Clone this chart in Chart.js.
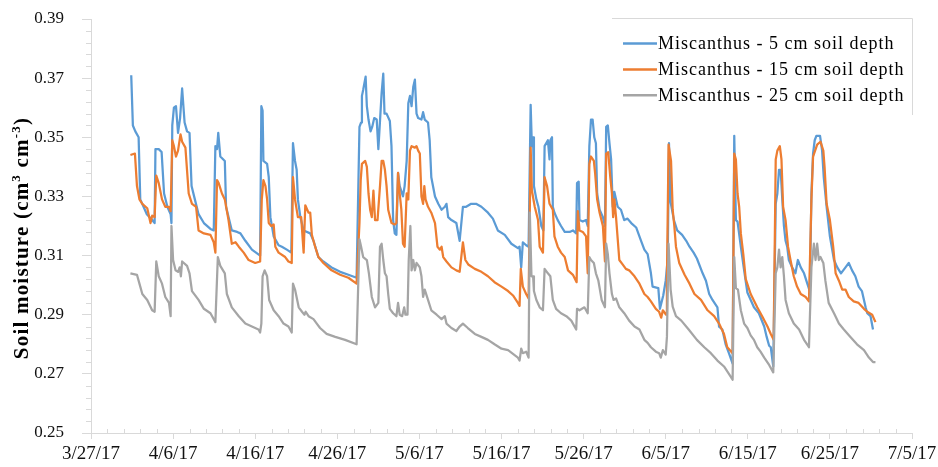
<!DOCTYPE html>
<html>
<head>
<meta charset="utf-8">
<script src="https://cdn.jsdelivr.net/npm/chart.js@4.4.1/dist/chart.umd.min.js"></script>
<style>
  html, body { margin: 0; padding: 0; background: #fff; }
  #soilChart { display: block; }
</style>
</head>
<body>
<canvas id="soilChart" width="938" height="467"></canvas>
<script>
// Soil moisture under Miscanthus, x = days since 3/27/17
const startDate = new Date(2017, 2, 27);
const dayRange = [0, 100];
const moistureRange = [0.25, 0.39];

const seriesNames = [
    "Miscanthus - 5 cm soil depth",
    "Miscanthus - 15 cm soil depth",
    "Miscanthus - 25 cm soil depth"
];
const seriesColors = ["#5B9BD5", "#ED7D31", "#A5A5A5"];

// [day, cm3 cm-3]
const depth5cm = [
    [4.9,0.371],[5.1,0.354],[5.4,0.352],[5.8,0.350],[6.0,0.329],[6.4,0.3265],[6.8,0.324],[7.45,0.322],[7.75,0.321],
    [7.85,0.346],[8.25,0.346],[8.6,0.345],[8.9,0.331],[9.3,0.3265],[9.7,0.324],[9.8,0.321],
    [9.9,0.354],[10.1,0.360],[10.35,0.3605],[10.6,0.3515],[10.85,0.3565],[11.1,0.3665],[11.4,0.355],[11.7,0.352],[12.0,0.3515],
    [12.25,0.3335],[12.65,0.329],[13.1,0.324],[13.75,0.321],[14.55,0.319],[14.95,0.3185],
    [15.15,0.347],[15.35,0.346],[15.5,0.3515],[15.75,0.3435],[16.3,0.342],[16.45,0.3265],[17.15,0.3185],[17.8,0.318],
    [18.2,0.3175],[18.8,0.315],[19.6,0.312],[20.6,0.310],
    [20.75,0.3605],[20.9,0.359],[21.0,0.342],[21.45,0.341],[21.65,0.3365],[21.85,0.323],[22.25,0.3165],[22.85,0.3135],
    [23.25,0.313],[23.85,0.312],[24.4,0.311],
    [24.6,0.348],[24.85,0.342],[25.05,0.339],[25.2,0.329],[25.5,0.323],[25.9,0.3185],[26.7,0.3175],[27.1,0.315],[27.7,0.3095],
    [28.3,0.308],[29.3,0.306],[30.35,0.3045],[31.35,0.3035],[32.35,0.3025],
    [32.7,0.3535],[32.9,0.355],[33.0,0.364],[33.15,0.366],[33.45,0.3705],[33.6,0.3605],[33.8,0.356],[34.05,0.352],[34.25,0.3535],
    [34.5,0.3565],[34.8,0.356],[35.0,0.346],[35.4,0.365],[35.6,0.3715],[35.75,0.358],[36.0,0.358],[36.4,0.3555],[36.6,0.347],
    [36.8,0.322],[37.0,0.3175],[37.2,0.317],
    [37.4,0.338],[37.6,0.3335],[38.0,0.330],[38.2,0.3335],[38.45,0.342],[38.65,0.3615],[38.85,0.364],[39.05,0.3605],[39.25,0.367],
    [39.45,0.3695],[39.65,0.358],[39.85,0.3565],[40.25,0.356],[40.45,0.3585],[40.65,0.356],[41.05,0.355],[41.25,0.349],[41.45,0.3365],
    [41.9,0.330],[42.3,0.3275],[42.7,0.3255],[43.1,0.3265],[43.3,0.3275],[43.5,0.323],[43.9,0.322],[44.5,0.321],[44.9,0.315],
    [45.3,0.3265],[45.7,0.3265],[46.3,0.3275],[46.9,0.3275],[47.55,0.3265],[48.35,0.3245],[48.95,0.3225],[49.55,0.3185],
    [50.4,0.317],[51.2,0.314],[52.0,0.3125],[52.2,0.313],[52.4,0.306],[52.6,0.3145],[53.0,0.3135],[53.3,0.313],
    [53.55,0.361],[53.7,0.347],[53.85,0.350],[53.95,0.3335],[54.25,0.329],[54.5,0.3265],[54.85,0.320],[55.1,0.3185],
    [55.25,0.347],[55.65,0.349],[55.85,0.3425],[55.95,0.349],[56.15,0.350],[56.25,0.3265],[56.45,0.3245],[56.85,0.322],
    [57.25,0.320],[57.7,0.318],[58.3,0.318],[58.7,0.3185],[59.1,0.3175],
    [59.2,0.3345],[59.4,0.335],[59.5,0.322],[59.9,0.3215],[60.3,0.322],[60.5,0.320],
    [60.7,0.347],[60.9,0.356],[61.1,0.356],[61.3,0.350],[61.5,0.348],[61.65,0.331],[61.95,0.3255],[62.35,0.323],[62.6,0.320],
    [62.75,0.3535],[62.95,0.354],[63.15,0.348],[63.35,0.3425],[63.55,0.3265],[63.75,0.3315],[63.95,0.329],[64.15,0.3265],
    [64.55,0.3255],[64.95,0.322],[65.35,0.3225],[65.8,0.321],[66.4,0.3195],[67.0,0.315],[67.4,0.312],[67.8,0.3105],
    [68.2,0.304],[68.4,0.2995],[69.1,0.299],[69.3,0.292],[69.7,0.2965],[70.0,0.3015],[70.25,0.309],
    [70.4,0.348],[70.6,0.328],[71.0,0.322],[71.4,0.3185],[72.0,0.317],[72.5,0.315],[72.9,0.313],[73.4,0.311],[73.8,0.309],
    [74.5,0.304],[74.9,0.3015],[75.3,0.297],[75.7,0.295],[76.3,0.2925],[76.5,0.286],[76.9,0.285],[77.3,0.280],[77.7,0.277],[78.15,0.2735],
    [78.35,0.3505],[78.55,0.322],[78.75,0.3215],[79.15,0.313],[79.5,0.306],[79.95,0.2975],[80.75,0.2925],[81.35,0.2905],
    [82.0,0.286],[82.3,0.2825],[82.6,0.2795],[82.8,0.279],[83.1,0.2725],
    [83.4,0.3275],[83.6,0.331],[83.8,0.339],[84.0,0.339],[84.2,0.329],[84.4,0.320],[84.6,0.315],[84.8,0.313],[85.0,0.3085],
    [85.4,0.306],[85.8,0.304],[86.1,0.3085],[86.45,0.306],[86.85,0.304],[87.25,0.3005],[87.55,0.298],
    [87.75,0.331],[87.95,0.3445],[88.15,0.349],[88.35,0.3505],[88.8,0.3505],[89.05,0.3455],[89.25,0.3365],[89.6,0.3265],
    [90.0,0.3165],[90.5,0.3085],[90.9,0.306],[91.35,0.304],[91.9,0.306],[92.3,0.3075],[92.7,0.305],[93.1,0.303],[93.5,0.2995],
    [93.9,0.298],[94.35,0.2925],[94.55,0.2905],[94.95,0.2895],[95.25,0.285]
];

const depth15cm = [
    [4.8,0.344],[5.35,0.3445],[5.6,0.3335],[5.9,0.329],[6.25,0.3275],[6.85,0.326],[7.25,0.321],[7.45,0.3235],[7.75,0.323],
    [7.95,0.337],[8.25,0.3345],[8.65,0.329],[9.05,0.3265],[9.5,0.3265],[9.7,0.325],
    [9.9,0.349],[10.1,0.347],[10.35,0.3435],[10.6,0.3455],[10.9,0.351],[11.1,0.3485],[11.5,0.3465],[11.9,0.331],[12.3,0.3275],
    [12.8,0.3265],[13.1,0.3185],[13.75,0.3175],[14.55,0.317],[14.95,0.3145],[15.15,0.311],
    [15.35,0.3355],[15.55,0.3345],[15.95,0.331],[16.3,0.329],[16.75,0.322],[17.15,0.314],[17.6,0.3145],[18.0,0.313],[18.6,0.311],
    [19.2,0.3085],[20.0,0.3075],[20.6,0.308],
    [20.8,0.329],[21.0,0.3355],[21.25,0.3335],[21.45,0.329],[21.65,0.321],[21.95,0.320],[22.25,0.3205],[22.45,0.313],[22.85,0.311],
    [23.65,0.3095],[24.05,0.308],[24.45,0.3075],
    [24.6,0.3365],[24.85,0.329],[25.2,0.323],[25.6,0.323],[25.9,0.311],[26.1,0.327],[26.5,0.3245],[26.7,0.3245],[26.9,0.317],
    [27.3,0.313],[27.7,0.3095],[28.3,0.3075],[29.3,0.305],[30.35,0.3035],[31.35,0.3025],[32.35,0.3005],
    [32.7,0.321],[32.85,0.3355],[33.0,0.341],[33.4,0.342],[33.6,0.340],[33.8,0.331],[34.0,0.3255],[34.2,0.323],[34.4,0.332],
    [34.6,0.322],[34.9,0.322],[35.2,0.3335],[35.4,0.342],[35.6,0.342],[35.8,0.339],[36.0,0.3335],[36.2,0.3255],[36.6,0.321],
    [37.0,0.3205],[37.2,0.321],
    [37.4,0.338],[37.6,0.331],[37.8,0.3255],[38.0,0.314],[38.2,0.313],[38.45,0.331],[38.65,0.329],[38.85,0.3455],[39.05,0.347],
    [39.45,0.3465],[39.65,0.347],[39.85,0.3455],[40.05,0.3445],[40.25,0.330],[40.45,0.3275],[40.6,0.3335],[40.75,0.329],
    [41.05,0.3265],[41.45,0.3245],[41.9,0.321],[42.2,0.313],[42.5,0.312],[42.7,0.313],[42.9,0.3095],[43.3,0.308],[43.9,0.306],
    [44.5,0.305],[44.9,0.3045],
    [45.3,0.3145],[45.6,0.3085],[45.95,0.307],[46.75,0.3055],[47.55,0.3045],[48.35,0.303],[49.15,0.301],[50.0,0.2995],
    [50.8,0.298],[51.4,0.2965],[52.0,0.294],[52.2,0.293],[52.35,0.3055],[52.6,0.2995],[53.0,0.297],[53.3,0.2955],
    [53.55,0.3465],[53.7,0.332],[54.05,0.3265],[54.45,0.322],[54.65,0.313],[55.05,0.311],
    [55.25,0.3365],[55.55,0.3335],[55.85,0.3275],[56.25,0.3255],[56.45,0.3165],[56.85,0.313],[57.25,0.311],[57.7,0.3095],
    [58.1,0.305],[58.7,0.3035],[59.15,0.301],
    [59.3,0.325],[59.5,0.3185],[59.9,0.318],[60.3,0.3165],[60.5,0.304],
    [60.7,0.341],[60.9,0.3435],[61.25,0.342],[61.4,0.338],[61.65,0.329],[61.95,0.3245],[62.35,0.320],[62.6,0.308],
    [62.75,0.3445],[63.0,0.345],[63.25,0.3365],[63.45,0.331],[63.6,0.323],[63.75,0.329],[63.95,0.323],[64.35,0.3085],
    [64.75,0.307],[65.15,0.3055],[65.55,0.305],[66.2,0.303],[66.8,0.3005],[67.4,0.297],[67.8,0.296],[68.2,0.2945],
    [68.8,0.292],[69.2,0.291],[69.45,0.289],[69.65,0.2915],[70.05,0.290],[70.15,0.3025],
    [70.35,0.3475],[70.65,0.342],[70.85,0.3255],[71.05,0.320],[71.25,0.313],[71.65,0.3075],[72.3,0.3035],[72.9,0.3005],
    [73.5,0.297],[74.3,0.295],[75.1,0.2915],[75.9,0.2895],[76.5,0.287],[77.1,0.2835],[77.5,0.279],[78.15,0.277],
    [78.35,0.3445],[78.55,0.3425],[78.75,0.331],[78.95,0.3265],[79.15,0.3175],[79.45,0.3105],[79.75,0.302],[80.35,0.297],
    [81.15,0.2925],[81.75,0.2895],[82.4,0.286],[82.8,0.2835],[83.15,0.2815],
    [83.4,0.3425],[83.6,0.3455],[83.9,0.347],[84.1,0.3425],[84.3,0.3265],[84.6,0.322],[84.9,0.313],[85.2,0.3085],[85.6,0.303],
    [86.0,0.2995],[86.45,0.297],[87.05,0.296],[87.45,0.2945],
    [87.75,0.329],[87.95,0.3435],[88.45,0.3475],[88.85,0.3485],[89.2,0.3455],[89.35,0.340],[89.6,0.3275],[90.0,0.322],
    [90.4,0.313],[90.7,0.304],[91.1,0.3015],[91.5,0.2985],[91.9,0.2985],[92.3,0.296],[92.9,0.2945],[93.5,0.294],[94.15,0.292],
    [94.55,0.291],[95.15,0.290],[95.55,0.2875]
];

const depth25cm = [
    [4.8,0.304],[5.6,0.3035],[5.9,0.3005],[6.25,0.297],[6.85,0.295],[7.45,0.2915],[7.75,0.291],
    [7.95,0.308],[8.25,0.303],[8.65,0.3005],[9.05,0.296],[9.5,0.294],[9.7,0.2895],
    [9.8,0.320],[10.0,0.3085],[10.3,0.305],[10.6,0.3045],[10.8,0.306],[10.95,0.303],[11.1,0.308],[11.7,0.3065],[12.0,0.304],
    [12.3,0.298],[13.1,0.295],[13.75,0.292],[14.55,0.2905],[15.15,0.2875],
    [15.45,0.3095],[15.75,0.3065],[16.3,0.304],[16.55,0.297],[17.15,0.2925],[18.0,0.2895],[18.8,0.287],[19.6,0.286],
    [20.4,0.285],[20.6,0.284],
    [20.75,0.287],[20.9,0.303],[21.15,0.305],[21.45,0.303],[21.7,0.295],[22.25,0.2915],[22.85,0.2895],[23.45,0.287],
    [24.05,0.286],[24.45,0.284],
    [24.6,0.3005],[24.85,0.2985],[25.3,0.2925],[25.7,0.291],[26.0,0.290],[26.15,0.291],[26.5,0.2895],[27.1,0.2885],[27.5,0.287],
    [27.9,0.2855],[28.7,0.2835],[29.75,0.2825],[30.95,0.2815],[32.35,0.280],
    [32.7,0.3155],[32.9,0.313],[33.15,0.3095],[33.6,0.3085],[33.85,0.304],[34.2,0.296],[34.6,0.2925],[35.0,0.294],[35.2,0.313],
    [35.4,0.314],[35.6,0.3085],[35.8,0.304],[36.0,0.303],[36.2,0.297],[36.4,0.292],[36.8,0.2905],[37.2,0.2895],[37.4,0.294],
    [37.6,0.290],[37.9,0.2895],[38.15,0.2925],[38.3,0.290],[38.55,0.290],
    [38.7,0.3085],[38.9,0.320],[39.05,0.305],[39.25,0.3085],[39.45,0.305],[39.65,0.3075],[40.05,0.306],[40.25,0.303],
    [40.45,0.296],[40.65,0.2985],[41.05,0.295],[41.45,0.2915],[42.1,0.290],[42.7,0.2885],[43.1,0.2895],[43.3,0.287],
    [43.9,0.2855],[44.5,0.2845],[44.9,0.286],[45.3,0.287],[45.9,0.2855],[46.75,0.2835],[47.55,0.2825],[48.35,0.2815],
    [49.15,0.280],[50.0,0.2785],[50.8,0.278],[52.0,0.2755],[52.2,0.2745],[52.4,0.2785],[52.6,0.277],[53.0,0.2775],[53.3,0.2755],
    [53.45,0.3245],[53.65,0.303],[53.85,0.303],[53.95,0.298],[54.25,0.295],[54.65,0.2925],[55.05,0.2915],
    [55.25,0.3055],[55.65,0.304],[55.95,0.303],[56.25,0.295],[56.65,0.292],[57.25,0.2905],[57.9,0.2895],[58.5,0.288],[59.1,0.285],
    [59.2,0.292],[59.5,0.2915],[60.1,0.2925],[60.5,0.2905],
    [60.7,0.3095],[60.9,0.3085],[61.25,0.3075],[61.5,0.304],[61.8,0.3015],[62.2,0.295],[62.6,0.2925],
    [62.75,0.314],[62.95,0.3105],[63.15,0.304],[63.45,0.297],[63.65,0.295],[63.95,0.2955],[64.35,0.2925],[64.95,0.2905],
    [65.55,0.288],[66.2,0.286],[66.8,0.285],[67.4,0.2815],[67.8,0.2805],[68.2,0.279],[68.8,0.2775],[69.2,0.277],[69.4,0.2755],
    [69.65,0.278],[70.0,0.2765],[70.15,0.2825],
    [70.35,0.314],[70.6,0.2985],[70.85,0.2927],[71.25,0.2895],[71.9,0.288],[72.8,0.285],[73.8,0.2815],[74.7,0.279],[75.5,0.277],
    [76.3,0.2745],[77.1,0.2725],[77.7,0.270],[78.15,0.268],
    [78.35,0.3095],[78.55,0.299],[78.8,0.2985],[79.15,0.2915],[79.55,0.287],[79.95,0.2855],[80.35,0.283],[80.75,0.2815],
    [81.15,0.279],[81.55,0.2775],[82.0,0.2755],[82.6,0.273],[83.1,0.2705],
    [83.4,0.304],[83.6,0.306],[83.8,0.312],[84.0,0.306],[84.2,0.3095],[84.4,0.303],[84.6,0.295],[85.0,0.2905],[85.6,0.287],
    [86.25,0.285],[86.85,0.2815],[87.45,0.279],
    [87.75,0.306],[88.05,0.314],[88.25,0.3085],[88.45,0.314],[88.65,0.3085],[88.85,0.3095],[89.2,0.3075],[89.45,0.3015],
    [89.85,0.294],[90.5,0.2905],[91.1,0.287],[91.7,0.285],[92.5,0.2825],[93.3,0.280],[94.15,0.278],[94.75,0.2755],
    [95.25,0.274],[95.55,0.274]
];

const axisColor = "#D9D9D9";
const textColor = "#111";
const serif = '"Liberation Serif", "Times New Roman", serif';

function dayLabel(day) {
    const d = new Date(startDate);
    d.setDate(d.getDate() + day);
    return (d.getMonth() + 1) + "/" + d.getDate() + "/17";
}

// minor ticks, legend, y title
const chartDecor = {
    id: "chartDecor",
    afterDraw(chart) {
        const ctx = chart.ctx;
        const area = chart.chartArea;
        const x = chart.scales.x;
        const y = chart.scales.y;

        ctx.save();
        ctx.strokeStyle = axisColor;
        ctx.lineWidth = 1;
        ctx.beginPath();
        for (let d = dayRange[0]; d <= dayRange[1]; d += 2) {
            if (d % 10 === 0) continue;
            const px = Math.round(x.getPixelForValue(d)) + 0.5;
            ctx.moveTo(px, area.bottom);
            ctx.lineTo(px, area.bottom - 4);
        }
        for (let i = 0; i <= 35; i++) {
            if (i % 5 === 0) continue;
            const py = Math.round(y.getPixelForValue(0.25 + i * 0.004)) + 0.5;
            ctx.moveTo(area.left, py);
            ctx.lineTo(area.left - 5, py);
        }
        // frame at the top right, beside the legend
        ctx.moveTo(612, 18.5);
        ctx.lineTo(912.5, 18.5);
        ctx.lineTo(912.5, 115);
        ctx.stroke();

        // legend
        ctx.font = "18px " + serif;
        ctx.letterSpacing = "1px";
        ctx.textBaseline = "middle";
        ctx.textAlign = "left";
        seriesNames.forEach((name, i) => {
            const ly = 43.5 + i * 25.9;
            ctx.strokeStyle = seriesColors[i];
            ctx.lineWidth = 2.5;
            ctx.beginPath();
            ctx.moveTo(623, ly);
            ctx.lineTo(657, ly);
            ctx.stroke();
            ctx.fillStyle = "#000";
            ctx.fillText(name, 658, ly + 1);
        });

        // y axis title with superscripts
        const parts = [
            ["Soil moisture (cm", false],
            ["3", true],
            [" cm", false],
            ["-3", true],
            [")", false]
        ];
        const bigFont = "bold 21px " + serif;
        const smallFont = "bold 13px " + serif;
        ctx.letterSpacing = "1.2px";
        let total = 0;
        parts.forEach(([t, sup]) => {
            ctx.font = sup ? smallFont : bigFont;
            total += ctx.measureText(t).width;
        });
        ctx.translate(28, 238);
        ctx.rotate(-Math.PI / 2);
        ctx.textBaseline = "alphabetic";
        ctx.fillStyle = "#000";
        let cx = -total / 2;
        parts.forEach(([t, sup]) => {
            ctx.font = sup ? smallFont : bigFont;
            ctx.fillText(t, cx, sup ? -8 : 0);
            cx += ctx.measureText(t).width;
        });
        ctx.restore();
    }
};

const datasets = [depth5cm, depth15cm, depth25cm].map((points, i) => ({
    label: seriesNames[i],
    data: points,
    borderColor: seriesColors[i],
    backgroundColor: seriesColors[i],
    borderWidth: 2.25,
    pointRadius: 0,
    tension: 0,
    borderJoinStyle: "round",
    order: 3 - i
}));

new Chart(document.getElementById("soilChart"), {
    type: "line",
    data: { datasets: datasets },
    options: {
        responsive: false,
        animation: false,
        layout: { padding: { top: 19, right: 26, bottom: 0, left: 0 } },
        plugins: {
            legend: { display: false },
            tooltip: { enabled: false }
        },
        scales: {
            x: {
                type: "linear",
                min: dayRange[0],
                max: dayRange[1],
                afterFit(scale) {
                    scale.height = 34;
                    scale.paddingLeft = 0;
                    scale.paddingRight = 0;
                },
                ticks: {
                    stepSize: 10,
                    autoSkip: false,
                    maxRotation: 0,
                    padding: 4,
                    color: textColor,
                    font: { family: serif, size: 19 },
                    callback: v => dayLabel(v)
                },
                grid: { drawOnChartArea: false, tickLength: 6, color: axisColor },
                border: { color: axisColor }
            },
            y: {
                min: moistureRange[0],
                max: moistureRange[1],
                afterFit(scale) {
                    scale.width = 91;
                    scale.paddingTop = 0;
                    scale.paddingBottom = 0;
                },
                ticks: {
                    stepSize: 0.02,
                    padding: 18,
                    color: textColor,
                    font: { family: serif, size: 17 },
                    callback: v => v.toFixed(2)
                },
                grid: { drawOnChartArea: false, tickLength: 9, color: axisColor },
                border: { color: axisColor }
            }
        }
    },
    plugins: [chartDecor]
});
</script>
</body>
</html>
